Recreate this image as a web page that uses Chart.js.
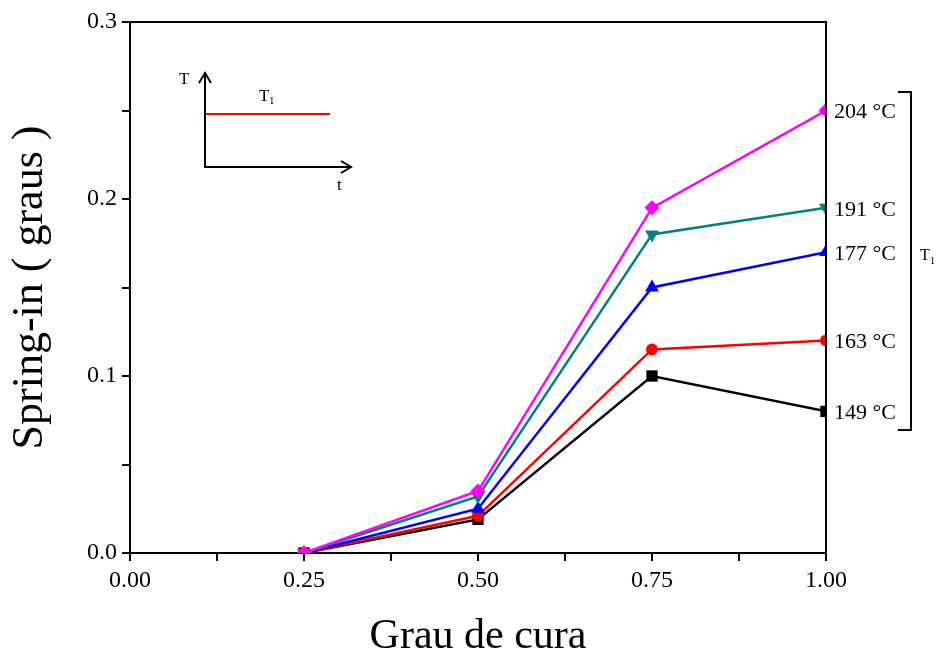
<!DOCTYPE html>
<html>
<head>
<meta charset="utf-8">
<script src="https://cdn.jsdelivr.net/npm/chart.js@4/dist/chart.umd.min.js"></script>
<style>
  body { margin: 0; background: #fff; }
  #wrap { width: 940px; height: 660px; }
</style>
</head>
<body>
<div id="wrap"><canvas id="myChart"></canvas></div>
<script>
const grauCura = [0.25, 0.50, 0.75, 1.00];
const temperaturas = ['149 °C', '163 °C', '177 °C', '191 °C', '204 °C'];
const s149 = [0, 0.019, 0.100, 0.080];
const s163 = [0, 0.021, 0.115, 0.120];
const s177 = [0, 0.025, 0.150, 0.170];
const s191 = [0, 0.032, 0.180, 0.195];
const s204 = [0, 0.035, 0.195, 0.250];
const cores = ['#000000', '#ff0000', '#0000ff', '#008080', '#ff00ff'];
const marcadores = ['rect', 'circle', 'triangle', 'triangle', 'rectRot'];
const rotacoes = [0, 0, 0, 180, 0];
const raios = [8, 6, 8, 8, 7.5];
const series = [s149, s163, s177, s191, s204];

const serif = '"Liberation Serif", "DejaVu Serif", serif';
const ctx = document.getElementById('myChart');

let datasets = [];
for (let i = 0; i < series.length; i++) {
    datasets.push({
        label: temperaturas[i],
        data: series[i].map((v, j) => ({ x: grauCura[j], y: v })),
        borderColor: cores[i],
        backgroundColor: cores[i],
        borderWidth: 2.5,
        pointStyle: marcadores[i],
        pointRotation: rotacoes[i],
        pointRadius: raios[i],
        pointBorderWidth: 0,
        order: series.length - 1 - i,
        clip: 0
    });
}

// inset, bracket, labels at right side, box lines
const extras = {
    id: 'extras',
    afterDraw(chart) {
        const c = chart.ctx;
        const a = chart.chartArea;
        const ys = chart.scales.y;
        c.save();
        c.strokeStyle = '#000';
        c.fillStyle = '#000';
        c.lineWidth = 2;
        // top and right border
        c.beginPath();
        c.moveTo(a.left, a.top);
        c.lineTo(a.right, a.top);
        c.lineTo(a.right, a.bottom);
        c.stroke();

        // temperature labels
        c.font = '22px ' + serif;
        c.textAlign = 'left';
        c.textBaseline = 'middle';
        for (let i = 0; i < series.length; i++) {
            const v = series[i][series[i].length - 1];
            c.fillText(temperaturas[i], a.right + 8, ys.getPixelForValue(v) + 2);
        }

        // bracket
        c.lineWidth = 2;
        c.beginPath();
        c.moveTo(898, 92);
        c.lineTo(911, 92);
        c.lineTo(911, 430);
        c.lineTo(898, 430);
        c.stroke();
        c.font = '16px ' + serif;
        c.fillText('T', 920, 256);
        c.font = '10px ' + serif;
        c.fillText('1', 930, 261);

        // inset
        c.lineWidth = 2;
        c.beginPath();
        c.moveTo(205, 75);
        c.lineTo(205, 167);
        c.lineTo(349, 167);
        c.stroke();
        c.beginPath();
        c.moveTo(199, 83); c.lineTo(205, 73); c.lineTo(211, 83);
        c.moveTo(341, 161); c.lineTo(351, 167); c.lineTo(341, 173);
        c.stroke();
        c.strokeStyle = '#ff0000';
        c.beginPath();
        c.moveTo(206, 114);
        c.lineTo(330, 114);
        c.stroke();
        c.font = '17px ' + serif;
        c.fillText('T', 179, 80);
        c.fillText('T', 259, 97);
        c.fillText('t', 337, 186);
        c.font = '11px ' + serif;
        c.fillText('1', 269, 101);
        c.restore();
    }
};

const myChart = new Chart(ctx, {
    type: 'line',
    data: { datasets: datasets },
    options: {
        responsive: true,
        maintainAspectRatio: false,
        animation: false,
        layout: { padding: { top: 22, right: 114, left: 0, bottom: 0 } },
        plugins: {
            legend: { display: false },
            tooltip: { enabled: false }
        },
        scales: {
            x: {
                type: 'linear',
                min: 0,
                max: 1,
                afterFit: (s) => { s.height = 107; },
                grid: { display: true, drawOnChartArea: false, drawTicks: true, tickLength: 8, color: '#000', lineWidth: 2 },
                border: { display: true, color: '#000', width: 2 },
                ticks: {
                    stepSize: 0.125,
                    autoSkip: false,
                    maxRotation: 0,
                    color: '#000',
                    padding: 5,
                    font: { family: serif, size: 24 },
                    callback: (v) => (Math.round(v * 1000) % 250 == 0 ? v.toFixed(2) : '')
                },
                title: {
                    display: true,
                    text: 'Grau de cura',
                    color: '#000',
                    font: { family: serif, size: 42, lineHeight: 1.1 },
                    padding: { top: 14, bottom: 0 }
                }
            },
            y: {
                min: 0,
                max: 0.3,
                afterFit: (s) => { s.width = 130; },
                grid: { display: true, drawOnChartArea: false, drawTicks: true, tickLength: 8, color: '#000', lineWidth: 2 },
                border: { display: true, color: '#000', width: 2 },
                ticks: {
                    stepSize: 0.05,
                    autoSkip: false,
                    color: '#000',
                    padding: 5,
                    font: { family: serif, size: 24 },
                    callback: (v) => (Math.round(v * 100) % 10 == 0 ? v.toFixed(1) : '')
                },
                title: {
                    display: true,
                    text: 'Spring-in ( graus )',
                    color: '#000',
                    font: { family: serif, size: 44 },
                    padding: { bottom: 10 }
                }
            }
        }
    },
    plugins: [extras]
});
</script>
</body>
</html>
